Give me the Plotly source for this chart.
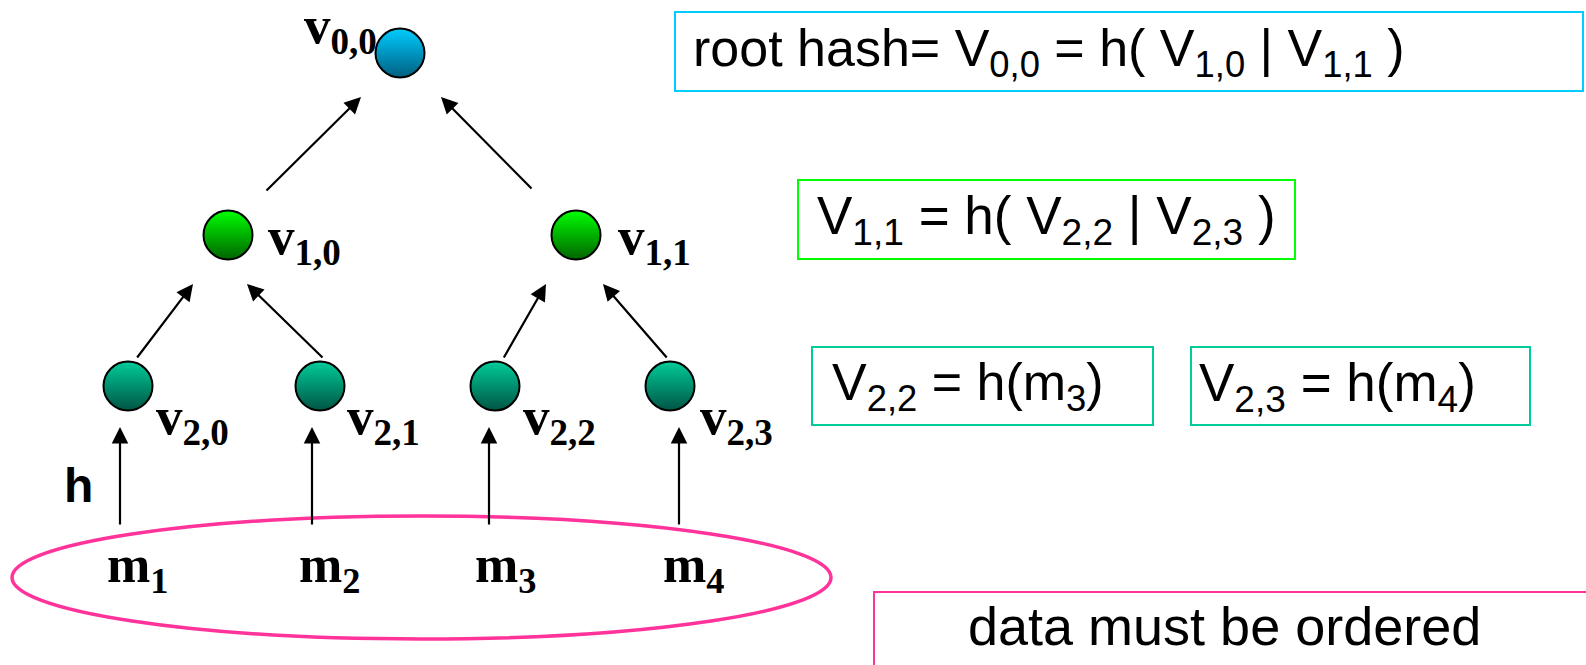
import plotly.graph_objects as go

W, H = 1586, 665

# Tree nodes (pixel coordinates in a 1586x665 canvas, y downwards)
node_names = ["v0,0", "v1,0", "v1,1", "v2,0", "v2,1", "v2,2", "v2,3"]
node_x = [400, 228, 576, 128, 320, 495, 670]
node_y = [53, 235, 235, 386, 386, 386, 386]
node_level = [0, 1, 1, 2, 2, 2, 2]
label_x = [302, 266, 616, 154, 345, 521, 698]
label_y = [29, 240, 240, 420, 420, 420, 420]

level_top = ["#00CCFF", "#00FF00", "#00CC99"]
level_bottom = ["#005F80", "#006400", "#005545"]

# Arrows: (tail_x, tail_y, head_x, head_y)
tree_arrows = [
    (265, 192, 361, 97), (533, 190, 441, 97),
    (136, 359, 193, 284), (324, 359, 247, 284),
    (503, 359, 546, 284), (668, 359, 603, 284),
]
leaf_x = [120, 312, 489, 679]
leaf_tail_y = 526
leaf_head_y = 427

msg_names = ["m1", "m2", "m3", "m4"]
msg_x = [105, 297, 473, 661]
msg_y = 568

# Boxes: x0, y0, x1, y1, colour, text, text x, anchor
boxes = [
    (675, 12, 1583, 91, "#00CCFF", "root hash= V<sub>0,0</sub> = h( V<sub>1,0</sub> | V<sub>1,1</sub> )", 691, "left"),
    (798, 180, 1295, 259, "#00FF00", "V<sub>1,1</sub> = h( V<sub>2,2</sub> | V<sub>2,3</sub> )", 815, "left"),
    (812, 347, 1153, 425, "#00CC99", "V<sub>2,2</sub> = h(m<sub>3</sub>)", 830, "left"),
    (1191, 347, 1530, 425, "#00CC99", "V<sub>2,3</sub> = h(m<sub>4</sub>)", 1197, "left"),
    (874, 592, 1600, 680, "#FF3399", "data must be ordered", 1224, "center"),
]
box_text_y = [52, 219, 386, 386, 626]
box_font = [52, 53, 52, 53, 54]

fig = go.Figure()

for lvl in range(3):
    xs = [x for x, l in zip(node_x, node_level) if l == lvl]
    ys = [y for y, l in zip(node_y, node_level) if l == lvl]
    fig.add_trace(go.Scatter(
        x=xs, y=ys, mode="markers", hoverinfo="skip",
        marker=dict(size=49, color=level_top[lvl],
                    gradient=dict(type="vertical", color=level_bottom[lvl]),
                    line=dict(color="black", width=2)),
    ))

shapes = []
# ellipse around messages
shapes.append(dict(type="circle", xref="x", yref="y", x0=12, x1=831, y0=516, y1=639,
                   line=dict(color="#FF3399", width=3.5), layer="below"))
for (x0, y0, x1, y1, col, txt, tx, anc) in boxes:
    shapes.append(dict(type="rect", xref="x", yref="y", x0=x0, x1=x1, y0=y0, y1=y1,
                       line=dict(color=col, width=2), fillcolor="rgba(0,0,0,0)"))

annotations = []
for (tx0, ty0, hx, hy) in tree_arrows:
    annotations.append(dict(x=hx, y=hy, ax=tx0, ay=ty0, xref="x", yref="y", axref="x", ayref="y",
                            text="", showarrow=True, arrowhead=2, arrowsize=1.5, arrowwidth=2.2,
                            arrowcolor="black"))
for lx in leaf_x:
    annotations.append(dict(x=lx, y=leaf_head_y, ax=lx, ay=leaf_tail_y, xref="x", yref="y",
                            axref="x", ayref="y", text="", showarrow=True, arrowhead=2,
                            arrowsize=1.5, arrowwidth=2.2, arrowcolor="black"))

for name, lx, ly in zip(node_names, label_x, label_y):
    a, b = name[0], name[1:]
    annotations.append(dict(x=lx, y=ly, xref="x", yref="y", showarrow=False, xanchor="left",
                            yanchor="middle", text=f"<b>{a}<sub>{b}</sub></b>",
                            font=dict(family="Liberation Serif", size=53, color="black")))
for name, mx in zip(msg_names, msg_x):
    annotations.append(dict(x=mx, y=msg_y, xref="x", yref="y", showarrow=False, xanchor="left",
                            yanchor="middle", text=f"<b>{name[0]}<sub>{name[1:]}</sub></b>",
                            font=dict(family="Liberation Serif", size=52, color="black")))

annotations.append(dict(x=62, y=485, xref="x", yref="y", showarrow=False, xanchor="left",
                        yanchor="middle", text="<b>h</b>",
                        font=dict(family="Liberation Sans", size=48, color="black")))

for (x0, y0, x1, y1, col, txt, tx, anc), ty, fs in zip(boxes, box_text_y, box_font):
    annotations.append(dict(x=tx, y=ty, xref="x", yref="y", showarrow=False, xanchor=anc,
                            yanchor="middle", text=txt,
                            font=dict(family="Liberation Sans", size=fs, color="black")))

fig.update_layout(
    width=W, height=H, margin=dict(l=0, r=0, t=0, b=0),
    paper_bgcolor="white", plot_bgcolor="white", showlegend=False,
    xaxis=dict(range=[0, W], visible=False, fixedrange=True),
    yaxis=dict(range=[H, 0], visible=False, fixedrange=True),
    shapes=shapes, annotations=annotations,
)

fig.write_html("out.html", config={"displayModeBar": False},
               post_script="document.body.style.margin='0';document.body.style.overflow='hidden';")
